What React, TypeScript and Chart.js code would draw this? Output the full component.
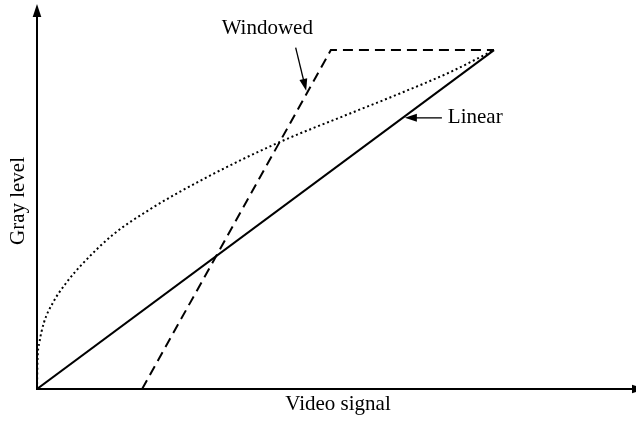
import React, { useEffect, useRef } from "react";
import { Chart, registerables } from "chart.js";

Chart.register(...registerables);

// ---- data (x: video signal, y: gray level; 100 = full scale) ----
const linearX = [0, 100];
const linearY = [0, 100];

const windowedX = [23.0, 64.3, 100];
const windowedY = [0, 100, 100];

const curveX = [0, 0.1, 0.5, 1.5, 3.5, 6.5, 10, 16.6, 24.7, 37.2, 52.5, 68.5, 79.4, 90.4, 100];
const curveY = [0, 8, 13.5, 19.5, 25.5, 31.5, 37, 45.5, 53, 62.5, 72.5, 81.3, 87.2, 93.5, 100];

const xTitle = "Video signal";
const yTitle = "Gray level";

const labelTexts = ["Windowed", "Linear"];
const labelX = [40.4, 89.9];
const labelY = [104.7, 78.5];
// arrows: from (fromX, fromY) to (toX, toY)
const arrowFromX = [56.6, 88.6];
const arrowFromY = [100.7, 80.0];
const arrowToX = [58.9, 80.5];
const arrowToY = [88.0, 80.0];

const X_MAX = 131.07;
const Y_MAX = 113.6;

const FONT = '21px "Liberation Serif", "Times New Roman", serif';

function zip(xs: number[], ys: number[]) {
  return xs.map((x, i) => ({ x, y: ys[i] }));
}

function arrowHead(ctx: CanvasRenderingContext2D, x0: number, y0: number, x1: number, y1: number, len: number, half: number) {
  const a = Math.atan2(y1 - y0, x1 - x0);
  const bx = x1 - len * Math.cos(a);
  const by = y1 - len * Math.sin(a);
  const px = -Math.sin(a) * half;
  const py = Math.cos(a) * half;
  ctx.beginPath();
  ctx.moveTo(x1, y1);
  ctx.lineTo(bx + px, by + py);
  ctx.lineTo(bx - px, by - py);
  ctx.closePath();
  ctx.fill();
}

const decorPlugin = {
  id: "decor",
  beforeDatasetsDraw(chart: any) {
    const { ctx, chartArea } = chart;
    const { left, right, top, bottom } = chartArea;
    ctx.save();
    ctx.strokeStyle = "#000";
    ctx.fillStyle = "#000";
    ctx.lineWidth = 2;
    // y axis
    ctx.beginPath();
    ctx.moveTo(left, bottom + 1);
    ctx.lineTo(left, top + 10);
    ctx.stroke();
    arrowHead(ctx, left, bottom, left, top, 13, 4.3);
    // x axis
    ctx.beginPath();
    ctx.moveTo(left - 1, bottom);
    ctx.lineTo(right - 2, bottom);
    ctx.stroke();
    arrowHead(ctx, left, bottom, right + 9, bottom, 13, 4.3);
    ctx.restore();
  },
  afterDatasetsDraw(chart: any) {
    const { ctx, scales } = chart;
    const xs = scales.x;
    const ys = scales.y;
    ctx.save();
    ctx.fillStyle = "#000";
    ctx.strokeStyle = "#000";
    ctx.font = FONT;
    // axis titles
    ctx.textAlign = "center";
    ctx.textBaseline = "alphabetic";
    ctx.fillText(xTitle, 338, 410);
    ctx.save();
    ctx.translate(23.5, 201);
    ctx.rotate(-Math.PI / 2);
    ctx.fillText(yTitle, 0, 0);
    ctx.restore();
    // annotation labels
    ctx.textAlign = "left";
    labelTexts.forEach((t, i) => {
      ctx.fillText(t, xs.getPixelForValue(labelX[i]), ys.getPixelForValue(labelY[i]));
    });
    // arrows
    ctx.lineWidth = 1.3;
    arrowFromX.forEach((fx, i) => {
      const x0 = xs.getPixelForValue(fx);
      const y0 = ys.getPixelForValue(arrowFromY[i]);
      const x1 = xs.getPixelForValue(arrowToX[i]);
      const y1 = ys.getPixelForValue(arrowToY[i]);
      const a = Math.atan2(y1 - y0, x1 - x0);
      ctx.beginPath();
      ctx.moveTo(x0, y0);
      ctx.lineTo(x1 - 8 * Math.cos(a), y1 - 8 * Math.sin(a));
      ctx.stroke();
      arrowHead(ctx, x0, y0, x1, y1, 12, 4);
    });
    ctx.restore();
  },
};

export default function App() {
  const ref = useRef<HTMLCanvasElement | null>(null);
  useEffect(() => {
    if (!ref.current) return;
    const chart = new Chart(ref.current, {
      type: "scatter",
      data: {
        datasets: [
          {
            label: "Logarithmic",
            data: zip(curveX, curveY),
            showLine: true,
            borderColor: "#000",
            borderWidth: 2,
            borderDash: [2, 2.8],
            pointRadius: 0,
            cubicInterpolationMode: "monotone",
            fill: false,
          } as any,
          {
            label: "Windowed",
            data: zip(windowedX, windowedY),
            showLine: true,
            borderColor: "#000",
            borderWidth: 2,
            borderDash: [10, 6],
            pointRadius: 0,
            tension: 0,
            fill: false,
          },
          {
            label: "Linear",
            data: zip(linearX, linearY),
            showLine: true,
            borderColor: "#000",
            borderWidth: 2,
            pointRadius: 0,
            tension: 0,
            fill: false,
          },
        ],
      },
      options: {
        animation: false,
        responsive: false,
        devicePixelRatio: 1,
        layout: { padding: { left: 37, right: 0, top: 4, bottom: 32 } },
        plugins: { legend: { display: false }, tooltip: { enabled: false } },
        scales: {
          x: { type: "linear", min: 0, max: X_MAX, display: false },
          y: { type: "linear", min: 0, max: Y_MAX, display: false },
        },
      },
      plugins: [decorPlugin],
    });
    return () => chart.destroy();
  }, []);
  return (
    <div style={{ position: "fixed", left: 0, top: 0, width: 636, height: 421, background: "#fff" }}>
      <canvas ref={ref} width={636} height={421} style={{ display: "block" }} />
    </div>
  );
}
